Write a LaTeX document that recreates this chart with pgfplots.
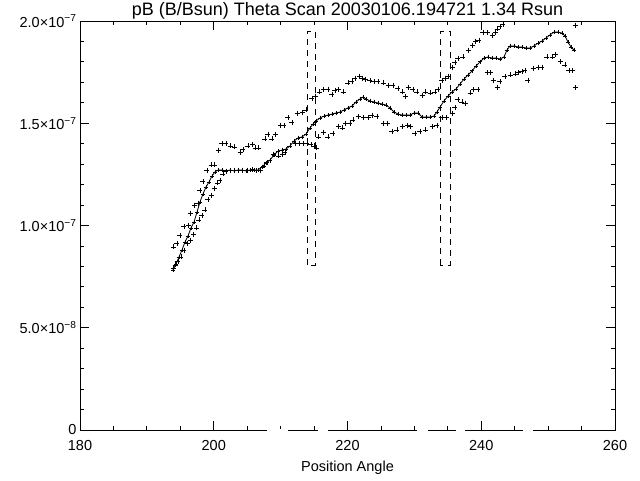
\documentclass[border=0pt]{standalone}
\usepackage{pgfplots}
\pgfplotsset{compat=1.18}
\usepackage{fontspec}
\setmainfont{Liberation Sans}
\begin{document}
\begin{tikzpicture}
\begin{axis}[name=ax, scale only axis, width=535pt, height=409pt,
  xmin=180, xmax=260, ymin=0, ymax=2,
  clip=false,
  xtick={180,200,220,240,260}, xticklabels={180,200,220,240,260},
  minor x tick num=3,
  ytick={0,0.5,1,1.5,2},
  yticklabels={0,{5.0×10\textsuperscript{−8}},{1.0×10\textsuperscript{−7}},{1.5×10\textsuperscript{−7}},{2.0×10\textsuperscript{−7}}},
  minor y tick num=4,
  tick align=inside, major tick length=9pt, minor tick length=4.5pt,
  every tick/.style={black, line width=0.8pt},
  axis line style={line width=0.9pt},
  tick label style={font=\fontsize{14.5}{17}\selectfont},
  xticklabel style={anchor=base, yshift=-20pt},
  title={pB (B/Bsun) Theta Scan 20030106.194721 1.34 Rsun},
  title style={font=\fontsize{18}{22}\selectfont, at={(0.5,1)}, anchor=base, yshift=-1pt},
  xlabel={Position Angle},
  xlabel style={font=\fontsize{14.5}{17}\selectfont, at={(0.5,0)}, anchor=base, yshift=-41pt},
  unbounded coords=jump,
]
% gaps in the bottom axis line
\addplot[white, line width=2.5pt, forget plot] coordinates {
 (208.0,0) (211.1,0) (nan,nan) (215.6,0) (217.1,0) (nan,nan)
 (230.4,0) (232.0,0) (nan,nan) (236.2,0) (237.6,0) (nan,nan)
 (246.3,0) (247.8,0)};
% middle series
\addplot[black, line width=0.8pt, mark=+, mark size=2.3pt] table {
193.91 0.782
194.36 0.812
194.80 0.846
195.25 0.880
195.70 0.919
196.15 0.949
196.60 0.988
197.05 1.017
197.50 1.066
197.94 1.115
198.39 1.154
198.84 1.188
199.29 1.213
199.74 1.242
200.19 1.262
200.64 1.271
201.23 1.271
201.83 1.267
202.43 1.271
203.03 1.267
203.63 1.271
204.22 1.271
204.82 1.267
205.42 1.271
206.02 1.271
206.62 1.271
207.21 1.286
207.81 1.306
208.41 1.320
209.01 1.345
209.61 1.364
210.21 1.369
210.80 1.374
211.40 1.389
212.00 1.413
212.60 1.428
213.20 1.433
213.79 1.447
214.39 1.477
214.84 1.496
215.29 1.511
215.89 1.526
216.49 1.535
217.08 1.540
217.68 1.545
218.28 1.550
218.88 1.555
219.48 1.565
220.07 1.575
220.67 1.584
221.27 1.604
221.87 1.619
222.32 1.628
222.77 1.619
223.36 1.609
223.96 1.604
224.56 1.599
225.16 1.594
225.76 1.589
226.36 1.575
226.95 1.555
227.55 1.545
228.15 1.540
228.75 1.540
229.35 1.540
229.94 1.550
230.54 1.550
231.14 1.531
231.74 1.531
232.34 1.531
232.94 1.535
233.38 1.555
233.83 1.579
234.43 1.609
235.03 1.633
235.63 1.653
236.22 1.667
236.82 1.692
237.42 1.716
238.02 1.736
238.62 1.756
239.22 1.780
239.81 1.800
240.41 1.819
241.01 1.824
241.61 1.819
242.21 1.819
242.80 1.814
243.40 1.824
243.85 1.858
244.30 1.878
244.90 1.878
245.50 1.873
246.09 1.873
246.69 1.868
247.29 1.868
247.89 1.878
248.49 1.892
249.08 1.902
249.68 1.917
250.28 1.932
250.88 1.946
251.48 1.946
252.07 1.941
252.52 1.927
252.97 1.897
253.42 1.873
253.87 1.858
};
% upper series
\addplot[black, only marks, mark=+, mark size=2.5pt, mark options={line width=0.9pt}] table {
193.91 0.895
194.50 0.914
194.95 0.949
195.55 0.993
196.15 1.002
196.45 1.061
197.05 1.100
197.64 1.110
197.94 1.169
198.39 1.213
198.99 1.271
199.59 1.296
200.04 1.296
200.64 1.369
201.23 1.399
201.83 1.403
202.43 1.389
203.03 1.384
203.93 1.359
204.37 1.374
205.12 1.389
205.72 1.394
206.17 1.379
206.62 1.379
207.66 1.423
208.11 1.447
208.71 1.423
209.16 1.443
209.91 1.491
210.50 1.491
211.10 1.526
211.70 1.506
212.45 1.550
213.20 1.555
213.79 1.565
214.69 1.623
215.14 1.633
215.74 1.653
216.34 1.667
217.08 1.667
217.68 1.643
218.13 1.658
218.58 1.667
219.33 1.653
220.07 1.697
220.67 1.702
221.12 1.721
221.72 1.731
222.17 1.721
222.62 1.716
223.36 1.707
223.96 1.702
224.56 1.702
225.31 1.697
226.06 1.687
226.80 1.687
227.55 1.672
228.15 1.653
228.60 1.633
229.05 1.677
229.79 1.667
230.39 1.653
231.14 1.638
231.59 1.653
232.34 1.648
233.08 1.653
233.53 1.667
234.13 1.711
234.58 1.721
235.03 1.731
235.63 1.775
236.07 1.795
236.52 1.819
237.27 1.824
238.02 1.858
238.62 1.878
239.07 1.902
239.66 1.907
240.26 1.946
240.86 1.946
241.61 1.927
242.06 1.946
242.36 1.961
242.80 1.971
243.25 1.985
254.02 1.980
};
% lower series
\addplot[black, only marks, mark=+, mark size=2.5pt, mark options={line width=0.9pt}] table {
193.91 0.792
194.21 0.807
194.65 0.822
195.10 0.846
195.55 0.880
196.00 0.914
196.45 0.929
196.90 0.958
197.35 0.988
197.79 1.027
198.24 1.051
198.69 1.076
199.14 1.125
199.59 1.149
200.04 1.183
200.49 1.208
200.93 1.222
201.38 1.252
201.83 1.262
202.43 1.267
203.03 1.271
203.63 1.271
204.22 1.271
204.97 1.271
205.72 1.276
206.32 1.267
206.92 1.271
207.51 1.291
207.96 1.306
208.41 1.320
208.86 1.345
209.61 1.340
210.21 1.345
210.65 1.359
211.40 1.389
212.15 1.403
212.75 1.403
213.35 1.403
213.94 1.403
214.54 1.394
214.99 1.389
215.29 1.379
215.59 1.433
216.34 1.457
217.08 1.433
217.83 1.452
218.58 1.482
219.18 1.477
219.63 1.501
220.37 1.501
220.82 1.516
221.57 1.531
222.32 1.526
223.07 1.526
223.66 1.540
224.41 1.535
225.31 1.501
225.91 1.501
226.65 1.462
227.40 1.467
228.15 1.482
228.90 1.487
229.35 1.482
230.09 1.452
230.84 1.462
231.59 1.467
232.64 1.482
233.38 1.487
234.13 1.526
234.73 1.526
235.63 1.550
236.07 1.575
236.52 1.614
237.12 1.604
237.57 1.599
238.32 1.648
238.77 1.663
239.51 1.663
240.86 1.746
241.31 1.746
241.76 1.711
242.36 1.677
242.80 1.702
243.55 1.731
244.30 1.736
245.05 1.741
245.50 1.746
246.09 1.751
246.54 1.760
246.99 1.711
247.74 1.770
248.49 1.775
249.08 1.775
249.83 1.824
250.58 1.824
251.03 1.834
251.78 1.800
252.52 1.785
253.12 1.756
253.57 1.760
254.02 1.677
};
% dashed boxes
\addplot[black, line width=0.8pt, dash pattern=on 6pt off 5pt] coordinates {
 (214.05,0.807) (214.05,1.948) (215.25,1.948) (215.25,0.807) (214.05,0.807)};
\addplot[black, line width=0.8pt, dash pattern=on 6pt off 5pt] coordinates {
 (233.85,0.807) (233.85,1.948) (235.35,1.948) (235.35,0.807) (233.85,0.807)};
\end{axis}
\pgfresetboundingbox
\path ([xshift=-80pt,yshift=-50pt]ax.south west) rectangle ([xshift=25pt,yshift=21pt]ax.north east);
\end{tikzpicture}
\end{document}
